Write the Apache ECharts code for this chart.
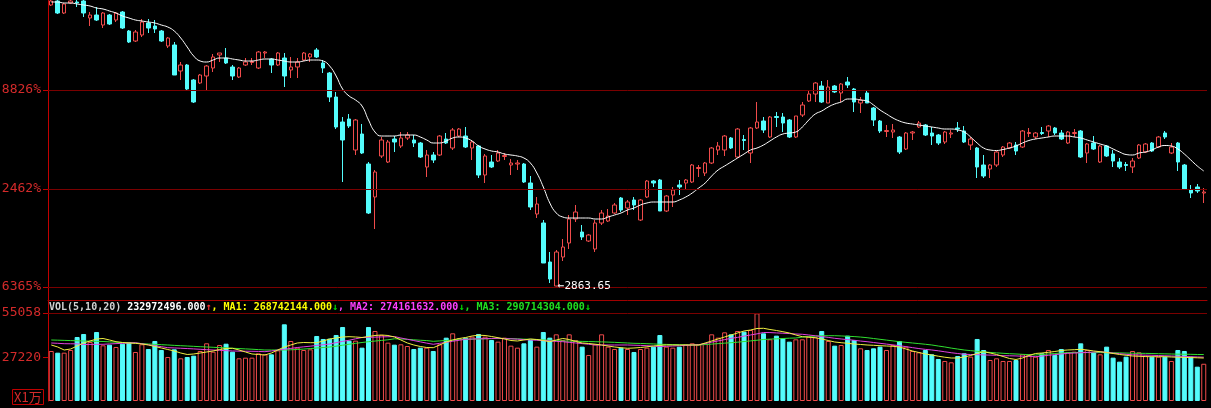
<!DOCTYPE html>
<html>
<head>
<meta charset="utf-8">
<script src="https://cdn.jsdelivr.net/npm/echarts@6/dist/echarts.min.js"></script>
<style>
html,body{margin:0;padding:0;background:#000;}
#c{width:1211px;height:408px;}
</style>
</head>
<body>
<div id="c"></div>
<script>
// ---------- data ----------
const openP = [
3145,3149,3137,3147,3148,3149,3132,3135,3125,3135,
3130,3138,3119,3109,3115,3127,3124,3119,3104,3105,
3079,3085,3070,3067,3074,3082,3095,3092,3083,3073,
3085,3087.5,3082,3097,3091,3085,3092,3080,3083,3090,
3093,3100,3087,3077,3053,3028,3031,3000,3016,2986,
2953,2994,2988,3011,3004,3012,3010,3007,2983,2995,
2995,3011,3002,3014,3014,3002,3004,2975,2988,2989,
2993.5,2985,2986,2986,2967,2936,2927,2888,2864,2893,
2907,2931,2918,2909,2901,2927,2929,2937,2952,2942,
2950,2930,2953,2969,2970,2939,2955,2965,2967,2968,
2981.5,2977,2987,3000,3000,3012,2993,3010.5,2997,3022,
3029,3013,3033.5,3033,3030,3013,3035,3049,3056,3064,
3047,3064,3057,3068,3061,3047,3057,3042,3029,3018.5,
3018,3013,3001,3017,3023,3025,3017,3015,3008,3016,
3022,3019,3005,3002,2985,2981,2985,2995,3002,3005,
3003,3016.5,3013,3017.5,3019,3022,3017,3007,3016.5,3019,
2997,3007,2988,3004,2996,2988,2985.5,2983,2992,2998,
3007,3003,3017,2997,3007,2985,2960,2963,2957
];
const closeP = [
3149,3137,3146,3149,3147,3137,3135,3130,3137,3126,
3137,3122,3108,3118,3128,3122,3121,3109,3112,3075,
3085,3061,3048,3075,3084,3093,3097,3087,3074,3082,
3088,3088.5,3098,3098,3085,3097,3074,3083,3088,3097,
3096,3093,3082,3053,3023,3010,3024,3030,2997,2937,
2978,3010,3008,3008,3012,3015,3007,2993,2995,2990,
3014,3007,3020,3021,3003,3008,2975,2994,2983,2997,
2994.5,2987,2987,2968,2943,2946,2887,2871,2898,2903,
2931,2938,2913,2915,2927,2937,2934,2945,2940,2948,
2945,2950,2969,2967,2939,2954,2960,2963,2970,2985,
2982.5,2987,3002,3004,3014,3002,3021,3009.5,3022,3028,
3020,3033,3032.5,3027,3013,3034,3045,3056,3067,3048,
3063,3058,3066,3065,3048,3050,3047,3030,3019,3019.5,
3020,2998,3017,3018,3027,3015,3014,3007,3018,3017,
3021,3008,3011,2983,2974,2985,2998,3003,3007,2999,
3019,3017.5,3017,3016.5,3024,3017,3011,3018,3017.5,2993,
3006,3001,3004,2994,2989,2983,2984.5,2989,3005,3006,
2999,3013,3013,3003,2988,2961,2957,2959,2958
];
const lowP = [
3144,3136,3136,3146,3143,3133,3124,3129,3122,3125,
3128,3121,3107,3108,3113,3117,3117,3108,3102,3075,
3070,3060,3047,3066,3059,3078,3088,3086,3070,3072,
3084,3085,3081,3092,3077,3084,3063,3072,3072,3089,
3088,3092,3077,3048,3021,2968,3022,2995,2996,2936,
2921,2992,2987,2998,3002,3010,3003,2992,2973,2987,
2994,3006,3000,3013,3002,2990,2972,2967,2982,2988,
2990,2975,2980,2967,2940,2932,2887,2867,2863.65,2889,
2901,2928,2910,2908,2898,2925,2928,2936,2938,2935,
2940,2929,2952,2963,2939,2938,2943,2955,2960,2967,
2973,2974,2986,2995,2994,3001,2992,3000,2987,3021,
3017,3012,3023,3018,3012,3012,3033,3048,3048,3047,
3047,3057,3048,3062,3038,3037,3047,3024,3017,3013,
3012,2996,3000,3010,3022,3014,3005,3005,3006,3012,
3018,3007,3000,2972,2972,2972,2983,2993,3001,2995,
3002,3013,3011,3015,3013,3015,3010,3006,3013,2992,
2987,3000,2987,2993,2983,2981,2979,2977,2991,2997,
2998,3002,3011,2996,2979,2960,2952,2957,2947
];
const highP = [
3150,3150,3147,3150,3150,3150,3138,3143,3138,3136,
3138,3139,3120,3120,3131,3131,3130,3120,3113,3108,
3088,3086,3071,3076,3085,3096,3097,3102,3085,3083,
3092,3092,3099,3099,3092,3098,3097,3093,3092,3098,
3097,3102,3090,3078,3058,3033,3036,3031,3026,2988,
2980,3013,3010,3014,3018,3018,3015,3008,3000,2998,
3015,3017,3022,3022,3023,3010,3005,2996,2995,3000,
2997,2991,2990,2987,2974,2953,2930,2898,2900,2911,
2935,2945,2925,2916,2930,2940,2941,2947,2953,2950,
2953,2951,2970,2970,2971,2955,2963,2970,2971,2986,
2985,2988,3003,3008,3015,3013,3022,3015,3023,3048,
3033,3034,3038,3037,3031,3034,3048,3060,3068,3069,
3070,3065,3067,3073,3062,3053,3059,3043,3030,3025,
3026,3014,3018,3019,3029,3026,3023,3016,3019,3020,
3028,3024,3013,3003,2995,2986,2999,3004,3008,3008,
3020,3022,3018,3023,3025,3023,3020,3019,3021,3020,
3007,3014,3005,3005,3000,2992,2988,2992,3006,3007,
3008,3014,3019,3007,3008,2986,2965,2966,2962
];
const priceMA = [
3148,3148,3147,3147,3146,3145,3144,3142,3141,3139,
3137,3134,3132,3130,3129,3128,3127,3125,3123,3119,
3112,3103,3094,3089,3088,3090,3092,3092,3091,3090,
3089,3089,3090,3091,3091,3090,3089,3088,3088,3089,
3090,3090,3089,3084,3074,3061,3054,3050,3044,3030,
3018,3014,3014,3014,3015,3015,3015,3013,3010,3007,
3007,3009,3012,3013,3012,3009,3004,3001,2999,2998,
2996,2995,2994,2992,2987,2977,2963,2947,2937,2933,
2932,2932,2932,2932,2931,2931,2933,2935,2937,2940,
2942,2945,2947,2948,2948,2948,2948,2950,2953,2957,
2962,2967,2974,2980,2984,2988,2992,2996,3000,3002,
3005,3009,3013,3016,3017,3018,3023,3030,3036,3039,
3043,3046,3048,3051,3051,3050,3049,3045,3040,3036,
3032,3029,3027,3026,3025,3024,3023,3022,3021,3021,
3020,3018,3013,3007,3002,3000,2999.5,3000.5,3002,3004,
3007,3009.5,3011,3012,3013,3014,3014,3014,3013,3012,
3010,3008,3006,3004,3001,2998,2995.5,2995,2997,2998,
3000,3003,3004.5,3004,3001,2996,2990,2984,2979
];
// volume, unit: 万 (10,000)
const volume = [
31285,30230,30230,31910,40045,41920,36915,43170,34850,35230,
33790,35855,36915,30660,35480,32540,37540,31910,27530,32350,
26715,27530,28345,31285,36100,30850,35040,35855,30850,26715,
27100,27100,29830,29200,29200,31700,47980,37540,33370,31910,
32330,40670,38800,39010,41300,46300,37750,37750,33370,46300,
43800,41300,36500,35250,35470,34410,32540,33370,33370,31285,
35470,39630,42340,39210,39630,40250,41920,40250,38170,37120,
39630,34620,33370,36080,38170,34000,43170,39630,41710,38170,
41710,38170,34000,28780,35470,41710,34000,32540,33370,32540,
30660,32540,33370,34000,41300,34000,33370,34000,35470,36080,
35470,36080,41710,39630,42960,41710,43800,43380,44420,54860,
42340,38590,40880,39210,37120,38590,38590,40250,39840,43800,
37540,34620,35040,40880,38170,32960,31910,32960,34000,31910,
35040,37540,34000,31285,30450,31910,29200,26290,25040,24200,
28160,29830,27740,38800,31910,25660,26700,25040,25040,25660,
29200,29200,27740,29830,31910,28780,32540,30450,30870,36080,
31910,30450,29200,34000,27120,24620,27740,31285,30450,28370,
27740,27740,27740,25040,31910,31285,27740,21480,23297
];
const volMA1 = [
35040,33790,31910,32540,34410,36290,37540,38790,39110,38170,
37100,36600,36290,36100,35660,35040,34100,33160,32220,31285,
30030,29100,29410,30030,30660,31285,32220,32850,32970,31910,
30660,29410,29100,28780,30030,31910,33790,35040,36290,36600,
36480,36480,37540,38790,39420,40045,40230,40045,39730,40360,
40980,41300,40980,40045,38170,36290,35040,34100,33470,33350,
35040,36920,38170,39110,39730,40670,41170,40980,40360,39610,
38790,37850,37540,38170,38790,38480,37850,37100,38170,39110,
38480,37230,36290,35980,35540,35040,34410,33790,33350,32970,
33160,33470,33910,34410,34850,35040,35040,35040,35040,35040,
35040,36290,37540,38790,40045,41300,42550,43800,44420,45360,
45490,44740,44110,43360,42550,41300,40230,39920,39610,38790,
37850,36920,36480,36100,35660,35350,35040,34850,34600,34410,
34230,33790,32540,31285,30350,29410,28780,28030,27400,26900,
26900,27530,28470,29720,30850,30030,29100,27840,26590,25970,
26900,28470,29720,30030,30470,30970,31600,31910,32100,32350,
31910,31285,30850,30350,29720,29100,28590,28160,27970,27780,
27720,27720,27720,27530,27400,27280,27160,27030,26874
];
const volMA2 = [
36290,36100,35850,35800,35750,35350,35400,35450,35480,35700,
35900,36100,36300,36480,35800,35200,34600,34000,33350,33200,
33000,32800,32600,32350,32100,31900,31700,31500,31285,31200,
31150,31100,31000,30850,31300,31900,32350,32900,33470,33900,
34300,34800,35200,35660,36500,37300,38000,38900,39730,39850,
39950,40100,40200,40350,39420,38600,37800,37000,36200,35480,
36100,36700,37400,38000,38600,38800,38900,39000,39100,39230,
39000,38900,38700,38400,38170,38000,37800,37600,37300,37100,
36700,36300,35900,35500,35040,35040,35040,35040,35040,35040,
34900,34800,34600,34300,34100,34200,34400,34600,34800,35000,
35230,36000,36800,37600,38400,39230,39800,40600,41300,42000,
42860,42800,42600,42400,42200,41920,41730,41300,40800,40300,
39800,39230,38800,38400,38000,37500,37100,36600,36100,35600,
35100,34600,34000,33400,32800,32300,31910,31400,30800,30200,
29700,29220,29100,29000,28850,28700,28600,28340,28300,28200,
28000,27900,27720,28100,28600,29000,29400,29850,30000,30200,
30400,30600,30850,30400,30000,29600,29200,28900,28780,28700,
28600,28450,28300,28160,28000,27900,27700,27550,27416
];
const volMA3 = [
38170,38050,37920,37800,37670,37540,37440,37330,37230,37000,
36800,36600,36450,36290,35900,35660,35450,35250,35040,34800,
34600,34400,34200,33980,33800,33600,33400,33250,33000,32800,
32600,32400,32150,31910,31910,31910,31910,32050,32220,32500,
32800,33150,33450,33790,34300,34900,35500,36100,36600,37100,
37500,37900,38300,38900,38790,38600,38300,38000,37800,37330,
37600,37900,38100,38400,38600,38700,38800,38900,39000,39230,
39100,39000,38900,38700,38600,38400,38200,38000,37800,37540,
37500,37400,37300,37200,37100,37000,36850,36700,36500,36290,
36100,36000,35850,35700,35480,35400,35300,35200,35100,35050,
35040,35300,35600,35900,36200,36480,36800,37200,37600,38000,
38480,38700,38900,39100,39300,39420,40000,40400,40600,40800,
40850,40860,40700,40500,40300,40000,39610,39100,38600,38100,
37600,37100,36700,36300,35900,35500,35040,34400,33800,33100,
32500,31910,31500,31100,30700,30400,30100,29850,29600,29400,
29200,29000,28780,29100,29400,29700,30000,30300,30300,30300,
30300,30300,30300,30200,30150,30100,30000,29900,29850,29800,
29700,29600,29500,29410,29300,29250,29200,29100,29071
];
const priceTickValues = [2863, 2961, 3060];
const priceTickLabels = ['6365%', '2462%', '8826%'];
const volTickValues = [27220, 55058];
const volTickLabels = ['27220', '55058'];
const lowMark = { index: 78, value: 2863.65, text: '←2863.65' };
const legendVals = { vol: '232972496.000', ma1: '268742144.000', ma2: '274161632.000', ma3: '290714304.000' };
const unitText = 'X1万';

// ---------- chart ----------
const upColor = '#f04b4b';
const downColor = '#54fcfc';
const axisRed = '#c00000';
const gridRed = '#7a0000';
const labelRed = '#d42a2a';
const mono = 'DejaVu Sans Mono';

const cats = openP.map((_, i) => String(i + 1));
const kData = openP.map((o, i) => [o, closeP[i], lowP[i], highP[i]]);
const volData = volume.map((v, i) => {
  const up = closeP[i] >= openP[i];
  return {
    value: v,
    itemStyle: up
      ? { color: '#000', borderColor: upColor, borderWidth: 1 }
      : { color: downColor, borderColor: downColor, borderWidth: 1 }
  };
});

const chart = echarts.init(document.getElementById('c'), null, { renderer: 'canvas' });
const option = {
  backgroundColor: '#000',
  animation: false,
  title: [
    {
      left: 49, top: 301, padding: 0,
      text: '{w|VOL(5,10,20)} {v|' + legendVals.vol + '}{up|↑}{y|, MA1: ' + legendVals.ma1 + '}{dn|↓}{m|, MA2: ' + legendVals.ma2 + '}{dn|↓}{g|, MA3: ' + legendVals.ma3 + '}{dn|↓}',
      textStyle: {
        fontFamily: mono, fontSize: 10, lineHeight: 12,
        rich: {
          w: { color: '#d0d0d0', fontFamily: mono, fontSize: 10 },
          v: { color: '#ffffff', fontFamily: mono, fontSize: 10 },
          up: { color: '#ff3030', fontFamily: mono, fontSize: 10 },
          dn: { color: '#00e000', fontFamily: mono, fontSize: 10 },
          y: { color: '#ffff00', fontFamily: mono, fontSize: 10 },
          m: { color: '#ff40ff', fontFamily: mono, fontSize: 10 },
          g: { color: '#20e020', fontFamily: mono, fontSize: 10 }
        }
      }
    },
    {
      left: 12, top: 389, padding: [1, 2, 0, 2],
      text: unitText,
      borderColor: axisRed, borderWidth: 1,
      textStyle: { color: labelRed, fontSize: 13, fontWeight: 'normal', fontFamily: 'Noto Sans CJK SC', lineHeight: 15 }
    }
  ],
  grid: [
    { left: 48, right: 4, top: 0, height: 300, outerBoundsMode: 'none' },
    { left: 48, right: 4, top: 300, height: 101, outerBoundsMode: 'none' }
  ],
  xAxis: [
    {
      type: 'category', gridIndex: 0, data: cats, boundaryGap: true,
      axisLine: { show: true, onZero: false, lineStyle: { color: '#a00000', width: 1 } },
      axisTick: { show: false }, axisLabel: { show: false }, splitLine: { show: false }
    },
    {
      type: 'category', gridIndex: 1, data: cats, boundaryGap: true,
      axisLine: { show: false }, axisTick: { show: false }, axisLabel: { show: false }, splitLine: { show: false }
    }
  ],
  yAxis: [
    {
      type: 'value', gridIndex: 0, min: 2850, max: 3150, scale: true,
      axisLine: { show: true, lineStyle: { color: axisRed, width: 1 } },
      axisTick: { show: true, customValues: priceTickValues, length: 5, lineStyle: { color: axisRed } },
      axisLabel: {
        show: true, customValues: priceTickValues, margin: 7,
        color: labelRed, fontFamily: mono, fontSize: 13,
        formatter: v => priceTickLabels[priceTickValues.indexOf(v)]
      },
      splitLine: { show: false }
    },
    {
      type: 'value', gridIndex: 1, min: 0, max: 63190,
      axisLine: { show: true, lineStyle: { color: axisRed, width: 1 } },
      axisTick: { show: true, customValues: volTickValues, length: 5, lineStyle: { color: axisRed } },
      axisLabel: {
        show: true, customValues: volTickValues, margin: 7,
        color: labelRed, fontFamily: mono, fontSize: 13,
        formatter: v => volTickLabels[volTickValues.indexOf(v)]
      },
      splitLine: { show: false }
    }
  ],
  series: [
    {
      type: 'candlestick', xAxisIndex: 0, yAxisIndex: 0, data: kData, barWidth: 4,
      itemStyle: { color: '#000', color0: downColor, borderColor: upColor, borderColor0: downColor, borderWidth: 1 },
      markLine: {
        silent: true, symbol: ['none', 'none'], animation: false,
        label: { show: false },
        lineStyle: { color: gridRed, type: 'solid', width: 1 },
        data: priceTickValues.map(v => ({ yAxis: v }))
      },
      markPoint: {
        silent: true, animation: false,
        symbol: 'circle', symbolSize: 1,
        itemStyle: { color: 'rgba(0,0,0,0)' },
        label: { show: true, position: 'right', distance: 1, formatter: lowMark.text, color: '#ffffff', fontFamily: mono, fontSize: 11 },
        data: [{ coord: [lowMark.index, lowMark.value] }]
      },
      z: 3
    },
    {
      type: 'line', xAxisIndex: 0, yAxisIndex: 0, data: priceMA, symbol: 'none', smooth: true,
      lineStyle: { color: '#ffffff', width: 1 }, z: 4
    },
    {
      type: 'bar', xAxisIndex: 1, yAxisIndex: 1, data: volData, barWidth: 5,
      markLine: {
        silent: true, symbol: ['none', 'none'], animation: false,
        label: { show: false },
        lineStyle: { color: gridRed, type: 'solid', width: 1 },
        data: [{ yAxis: volTickValues[1] }]
      },
      z: 2
    },
    {
      type: 'line', xAxisIndex: 1, yAxisIndex: 1, data: volMA3, symbol: 'none',
      lineStyle: { color: '#30e030', width: 1 }, z: 3
    },
    {
      type: 'line', xAxisIndex: 1, yAxisIndex: 1, data: volMA2, symbol: 'none',
      lineStyle: { color: '#e040e0', width: 1 }, z: 3
    },
    {
      type: 'line', xAxisIndex: 1, yAxisIndex: 1, data: volMA1, symbol: 'none',
      lineStyle: { color: '#f0f040', width: 1 }, z: 3
    }
  ]
};
chart.setOption(option);
</script>
</body>
</html>
